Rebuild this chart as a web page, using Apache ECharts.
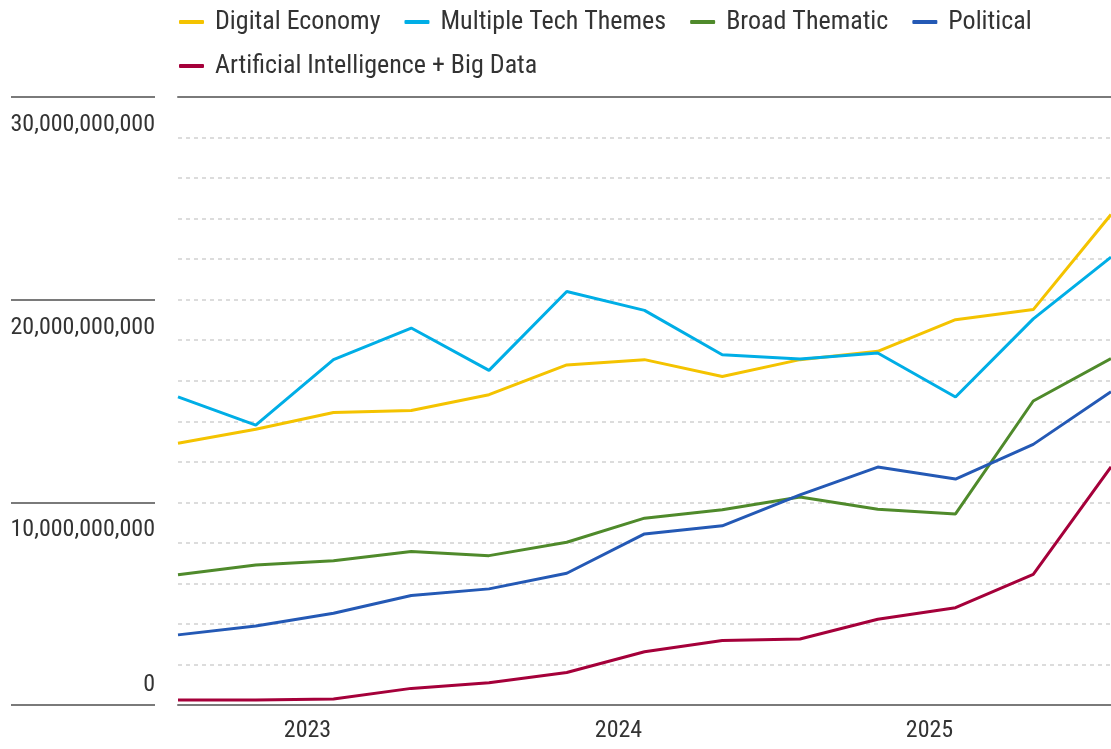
<!DOCTYPE html>
<html>
<head>
<meta charset="utf-8">
<style>
  html, body { margin: 0; padding: 0; background: #fff; }
  #main { width: 1111px; height: 749px; }
</style>
<script src="https://cdn.jsdelivr.net/npm/echarts@6/dist/echarts.min.js"></script>
</head>
<body>
<div id="main"></div>
<script>
var myChart = echarts.init(document.getElementById('main'));

const FONT = "'Liberation Sans Narrow', 'Roboto Condensed', 'DejaVu Sans Condensed', sans-serif";

// quarterly points, year label shown on the Q1 point of each year
const quarters = [
    '2022 Q3', '2022 Q4', '2023 Q1', '2023 Q2', '2023 Q3', '2023 Q4', '2024 Q1',
    '2024 Q2', '2024 Q3', '2024 Q4', '2025 Q1', '2025 Q2', '2025 Q3'
];

const digitalEconomy = [12.92, 13.61, 14.43, 14.53, 15.31, 16.78, 17.04, 16.21, 17.04, 17.45, 19.01, 19.51, 24.2];
const multipleTech   = [15.2, 13.81, 17.04, 18.6, 16.51, 20.4, 19.47, 17.28, 17.07, 17.37, 15.2, 19.05, 22.1];
const broadThematic  = [6.43, 6.91, 7.12, 7.57, 7.37, 8.03, 9.22, 9.63, 10.26, 9.66, 9.43, 15.0, 17.09];
const political      = [3.46, 3.9, 4.53, 5.4, 5.73, 6.5, 8.44, 8.84, 10.37, 11.74, 11.15, 12.86, 15.46];
const aiBigData      = [0.25, 0.25, 0.3, 0.82, 1.1, 1.6, 2.63, 3.18, 3.26, 4.23, 4.8, 6.45, 11.75];

const seriesNames = ['Digital Economy', 'Multiple Tech Themes', 'Broad Thematic', 'Political', 'Artificial Intelligence + Big Data'];
const seriesColors = ['#F4C300', '#00AEE6', '#4F8A2B', '#2459B5', '#A5003A'];
const seriesData = [digitalEconomy, multipleTech, broadThematic, political, aiBigData];

const BILLION = 1e9;
const fmt = v => Math.round(v).toLocaleString('en-US');

// two legend rows: first four names, then the long one on its own
const legendBase = {
    left: 174,
    icon: 'roundRect',
    itemWidth: 25,
    itemHeight: 4,
    itemGap: 24,
    textStyle: {fontFamily: FONT, fontSize: 26, color: '#333', padding: [0, 0, 0, 6]}
};

let option = {
    animation: false,
    legend: [
        Object.assign({data: seriesNames.slice(0, 4), top: 4}, legendBase),
        Object.assign({data: seriesNames.slice(4), top: 48}, legendBase)
    ],
    grid: [
        {left: 178, top: 97, width: 935, height: 608},
        {left: 11, top: 97, width: 144, height: 608}
    ],
    xAxis: [
        {
            type: 'category', gridIndex: 0, data: quarters, boundaryGap: false,
            axisLine: {lineStyle: {color: '#7a7a7a', width: 2}},
            axisTick: {show: false},
            axisLabel: {
                interval: function (index) { return index % 4 === 2; },
                formatter: function (value) { return '{y|' + value.slice(0, 4) + '}'; },
                margin: 14,
                rich: {y: {fontFamily: FONT, fontSize: 24, color: '#333', padding: [0, 52, 0, 0]}}
            },
            splitLine: {show: false}
        },
        {
            type: 'category', gridIndex: 0, data: quarters, boundaryGap: false, position: 'top',
            axisLine: {lineStyle: {color: '#7a7a7a', width: 2}},
            axisTick: {show: false}, axisLabel: {show: false}, splitLine: {show: false}
        },
        {
            type: 'value', gridIndex: 1, show: false
        }
    ],
    yAxis: [
        {
            type: 'value', gridIndex: 0, min: 0, max: 30 * BILLION, interval: 2 * BILLION,
            axisLine: {show: false}, axisTick: {show: false}, axisLabel: {show: false},
            splitLine: {lineStyle: {color: '#dcdcdc', width: 2, type: [4, 4]}}
        },
        {
            // left column: solid rules with labels hanging under them
            type: 'value', gridIndex: 1, position: 'right', min: 0, max: 30 * BILLION, interval: 10 * BILLION,
            axisLine: {show: false}, axisTick: {show: false},
            axisLabel: {
                inside: true, margin: 0, verticalAlign: 'top', padding: [16, 0, 0, 0],
                fontFamily: FONT, fontSize: 24, color: '#333',
                formatter: v => (v === 0 ? '' : fmt(v))
            },
            splitLine: {lineStyle: {color: '#7a7a7a', width: 2}}
        },
        {
            // the zero label sits above its rule
            type: 'value', gridIndex: 1, position: 'right', min: 0, max: 30 * BILLION, interval: 10 * BILLION,
            axisLine: {show: false}, axisTick: {show: false}, splitLine: {show: false},
            axisLabel: {
                inside: true, margin: 0, verticalAlign: 'bottom', padding: [0, 0, 8, 0],
                fontFamily: FONT, fontSize: 24, color: '#333',
                formatter: v => (v === 0 ? '0' : '')
            }
        }
    ],
    series: seriesNames.map((name, i) => ({
        name: name,
        type: 'line',
        xAxisIndex: 0,
        yAxisIndex: 0,
        data: seriesData[i].map(v => v * BILLION),
        symbol: 'none',
        color: seriesColors[i],
        lineStyle: {width: 3, color: seriesColors[i]}
    }))
};

myChart.setOption(option);
</script>
</body>
</html>
